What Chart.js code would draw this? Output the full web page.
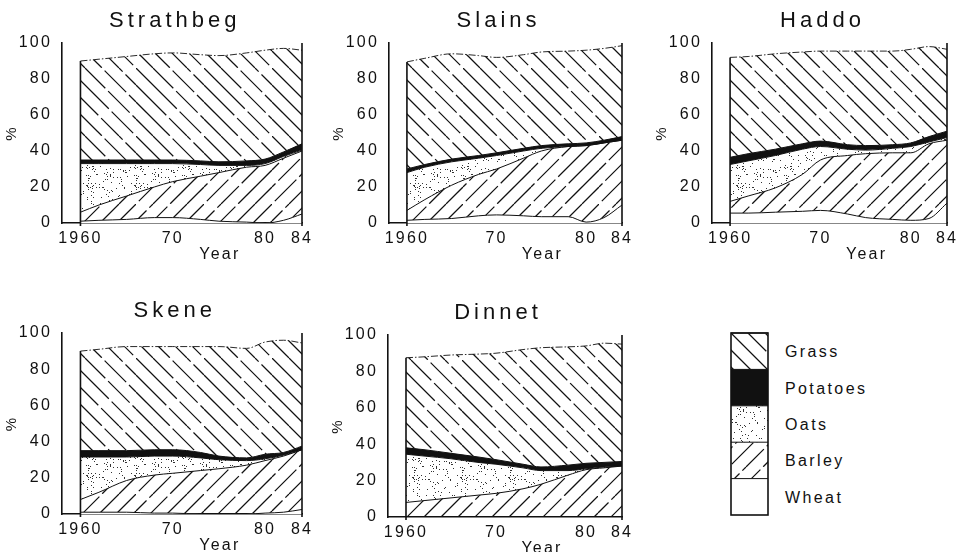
<!DOCTYPE html>
<html>
<head>
<meta charset="utf-8">
<script src="https://cdn.jsdelivr.net/npm/chart.js@4.4.1/dist/chart.umd.min.js"></script>
<style>
  body { margin: 0; background: #fff; width: 962px; height: 552px; overflow: hidden; position: relative;
         font-family: "Liberation Sans", Arial, sans-serif; color: #111; }
  canvas { position: absolute; }
  .lab { position: absolute; left: 785px; font-size: 16px; letter-spacing: 2.4px; line-height: 16px; }
</style>
</head>
<body>
<canvas id="c0"></canvas>
<canvas id="c1"></canvas>
<canvas id="c2"></canvas>
<canvas id="c3"></canvas>
<canvas id="c4"></canvas>
<canvas id="legendBox" width="41" height="186" style="left:729px;top:331px"></canvas>
<script>
const years = [1960, 1962, 1965, 1968, 1970, 1973, 1975, 1978, 1980, 1982, 1984];
const xTickValues = [1960, 1970, 1980, 1984];
const xTickLabels = ['1960', '70', '80', '84'];
const crops = ['Wheat', 'Barley', 'Oats', 'Potatoes', 'Grass']; // bottom to top
const legendOrder = ['Grass', 'Potatoes', 'Oats', 'Barley', 'Wheat'];

// Share of land (%) per crop
const strathbegWheat    = [1, 1.5, 2, 3, 3, 2, 1, 0.5, 0, 1.5, 5];
const strathbegBarley   = [5, 8.5, 13, 17, 20, 24, 27, 30.5, 32, 34.5, 35];
const strathbegOats     = [27, 23, 18, 13, 10, 6.5, 4, 1, 1, 1, 0.5];
const strathbegPotatoes = [2, 2, 2, 2, 2, 2, 2, 2.5, 2.5, 2.5, 3.5];
const strathbegGrass    = [55, 56, 57.5, 59, 59.5, 59, 59, 60, 60.5, 57.5, 52];

const slainsWheat    = [1.5, 2, 2.5, 4, 4.5, 4, 3.5, 3.5, 0.5, 3, 10];
const slainsBarley   = [5.5, 11, 18.5, 23, 25.5, 32, 36.5, 39, 42.5, 41.5, 36];
const slainsOats     = [21, 18, 13, 9, 7.5, 4, 1.5, 0, 0, 0, 0];
const slainsPotatoes = [2, 1.5, 1.5, 1.5, 1.5, 1.5, 1.5, 1.5, 1.5, 1.5, 2];
const slainsGrass    = [59.5, 59, 58.5, 55.5, 53, 52, 52, 51.5, 51.5, 51, 50.5];

const haddoWheat    = [5.5, 5.5, 6, 6.5, 7, 5, 3, 2, 1.5, 2.5, 11];
const haddoBarley   = [6.5, 9.5, 13.5, 20.5, 28, 32.5, 35.5, 37, 37.5, 41.5, 35];
const haddoOats     = [20.5, 19.5, 18, 14, 7.5, 3.5, 2, 2.5, 3.5, 1, 1.5];
const haddoPotatoes = [4, 4, 3.5, 3, 3, 2.5, 2.5, 2, 2, 3, 3.5];
const haddoGrass    = [55.5, 54, 53, 51, 50, 52, 52.5, 52, 52, 50, 45.5];

const skeneWheat    = [1, 1, 1, 0.5, 0.5, 0, 0, 0, 0.5, 1, 2.5];
const skeneBarley   = [7, 11, 17.5, 21, 22, 24, 25, 27, 29, 31, 33];
const skeneOats     = [23.5, 19.5, 13, 10.5, 9.5, 7, 5, 2.5, 1, 0.5, 0];
const skenePotatoes = [3.5, 3.5, 3.5, 3.5, 3.5, 3, 2, 1.5, 2.5, 1.5, 2];
const skeneGrass    = [55, 56, 57.5, 57, 57, 58.5, 60.5, 60.5, 62, 62, 57];

const dinnetWheat    = [0, 0, 0, 0, 0, 0, 0, 0, 0, 0, 0];
const dinnetBarley   = [8, 9, 10.5, 12, 13, 15.5, 18, 23, 26, 27, 28];
const dinnetOats     = [26.5, 24.5, 21.5, 18, 16, 11.5, 7.5, 2.5, 0.5, 0.5, 0];
const dinnetPotatoes = [3.5, 3.5, 3, 3, 2.5, 2, 2, 3, 3, 2.5, 2.5];
const dinnetGrass    = [49.5, 51, 54, 56.5, 58.5, 63, 65.5, 65, 64.5, 65.5, 64.5];

const FONT = '"Liberation Sans", Arial, sans-serif';
Chart.defaults.font.family = FONT;
Chart.defaults.color = '#111';

// ---- fill textures ----
function hatch(mirror) {
    const step = 17, n = 4, N = step * n;
    const c = document.createElement('canvas');
    c.width = c.height = N;
    const g = c.getContext('2d');
    if (mirror) { g.translate(N, 0); g.scale(-1, 1); }
    g.strokeStyle = '#111';
    g.lineWidth = 1.25;
    const L = N * Math.SQRT2;
    g.setLineDash([L * 0.6, 4, L * 0.4 - 8, 4]);
    for (let i = 0; i < n; i++) {
        const o = i * step;
        const off = i * 29;
        g.lineDashOffset = off;
        g.beginPath(); g.moveTo(o, 0); g.lineTo(N, N - o); g.stroke();
        g.lineDashOffset = off + (N - o) * Math.SQRT2;
        g.beginPath(); g.moveTo(0, N - o); g.lineTo(o, N); g.stroke();
    }
    return g.createPattern(c, 'repeat');
}

function stipple() {
    const N = 48;
    const c = document.createElement('canvas');
    c.width = c.height = N;
    const g = c.getContext('2d');
    g.fillStyle = '#fff';
    g.fillRect(0, 0, N, N);
    g.fillStyle = '#333';
    let s = 11;
    for (let k = 0; k < 120; k++) {
        s = (s * 16807) % 2147483647;
        const px = s % N;
        s = (s * 16807) % 2147483647;
        const py = s % N;
        g.fillRect(px, py, 1, 1);
    }
    return g.createPattern(c, 'repeat');
}

const fills = {
    Wheat: '#ffffff',
    Barley: hatch(true),
    Oats: stipple(),
    Potatoes: '#111111',
    Grass: hatch(false)
};

// frame lines, panel title and "Year" label
const frame = {
    id: 'frame',
    beforeDraw(chart) { chart.ctx.letterSpacing = '2.2px'; },
    afterDraw(chart, args, opts) {
        const { ctx, scales: { x, y } } = chart;
        const first = chart.data.datasets.reduce((s, d) => s + d.data[0].y, 0);
        const xl = x.getPixelForValue(years[0]);
        const xr = x.getPixelForValue(years[years.length - 1]);
        ctx.save();
        ctx.strokeStyle = '#111';
        ctx.lineWidth = 1.6;
        ctx.beginPath();
        ctx.moveTo(xl, y.getPixelForValue(0) + 3); ctx.lineTo(xl, y.getPixelForValue(first));
        ctx.moveTo(xr, y.getPixelForValue(0) + 3); ctx.lineTo(xr, y.getPixelForValue(100));
        ctx.stroke();
        ctx.fillStyle = '#111';
        ctx.textAlign = 'center';
        ctx.textBaseline = 'middle';
        ctx.letterSpacing = '4px';
        ctx.font = '22px ' + FONT;
        ctx.fillText(opts.title, x.getPixelForValue(1970) + 2, chart.chartArea.top - 22);
        ctx.letterSpacing = '2.2px';
        ctx.font = '16px ' + FONT;
        ctx.fillText('Year', x.getPixelForValue(1975) + 1, y.getPixelForValue(0) + 32);
        ctx.restore();
    }
};

function makeChart(id, title, series, box) {
    const canvas = document.getElementById(id);
    canvas.width = box.w;
    canvas.height = box.h;
    canvas.style.left = box.left + 'px';
    canvas.style.top = box.top + 'px';
    const datasets = crops.map((crop, k) => ({
        label: crop,
        data: years.map((yr, i) => ({ x: yr, y: series[k][i] })),
        fill: k === 0 ? 'origin' : '-1',
        backgroundColor: fills[crop],
        borderColor: '#111',
        borderWidth: crop === 'Grass' ? 0.9 : 1,
        borderDash: crop === 'Grass' ? [7, 2, 1.5, 2] : [],
        pointRadius: 0,
        cubicInterpolationMode: 'monotone'
    }));
    return new Chart(canvas, {
        type: 'line',
        data: { datasets },
        options: {
            responsive: false,
            animation: false,
            layout: { padding: { top: 43, right: 15, left: 0, bottom: 0 } },
            plugins: { legend: { display: false }, tooltip: { enabled: false }, frame: { title } },
            scales: {
                x: {
                    type: 'linear', min: 1958, max: 1984,
                    afterBuildTicks: s => { s.ticks = xTickValues.map(v => ({ value: v })); },
                    afterFit: s => { s.height = 38; s.paddingLeft = 0; s.paddingRight = 0; },
                    ticks: {
                        autoSkip: false, maxRotation: 0, padding: 6,
                        font: { size: 16 },
                        callback: v => xTickLabels[xTickValues.indexOf(v)]
                    },
                    grid: { display: false, drawTicks: false },
                    border: { display: true, color: '#111', width: 1.6 }
                },
                y: {
                    stacked: true, min: 0, max: 100,
                    afterFit: s => { s.width = 62; s.paddingTop = 0; s.paddingBottom = 0; },
                    ticks: { stepSize: 20, padding: 10, font: { size: 16 } },
                    grid: { display: false, drawTicks: false },
                    border: { display: true, color: '#111', width: 1.6 },
                    title: { display: true, text: '%', font: { size: 15 }, padding: { top: 3, bottom: 0 } }
                }
            }
        },
        plugins: [frame]
    });
}

makeChart('c0', 'Strathbeg',
    [strathbegWheat, strathbegBarley, strathbegOats, strathbegPotatoes, strathbegGrass],
    { left: 0, top: 0, w: 317, h: 261 });
makeChart('c1', 'Slains',
    [slainsWheat, slainsBarley, slainsOats, slainsPotatoes, slainsGrass],
    { left: 327, top: 0, w: 310, h: 261 });
makeChart('c2', 'Haddo',
    [haddoWheat, haddoBarley, haddoOats, haddoPotatoes, haddoGrass],
    { left: 650, top: 0, w: 312, h: 261 });
makeChart('c3', 'Skene',
    [skeneWheat, skeneBarley, skeneOats, skenePotatoes, skeneGrass],
    { left: 0, top: 290, w: 317, h: 262 });
makeChart('c4', 'Dinnet',
    [dinnetWheat, dinnetBarley, dinnetOats, dinnetPotatoes, dinnetGrass],
    { left: 326, top: 292, w: 311, h: 263 });

// legend box
const lg = document.getElementById('legendBox').getContext('2d');
const sw = 182 / legendOrder.length;
legendOrder.forEach((crop, k) => {
    lg.fillStyle = fills[crop];
    lg.fillRect(2, 2 + k * sw, 37, sw);
    lg.strokeStyle = '#111';
    lg.lineWidth = 1;
    lg.beginPath(); lg.moveTo(2, 2 + k * sw); lg.lineTo(39, 2 + k * sw); lg.stroke();
    const lab = document.createElement('div');
    lab.className = 'lab';
    lab.textContent = crop;
    lab.style.top = (334 + (k + 0.5) * sw - 8) + 'px';
    document.body.appendChild(lab);
});
lg.lineWidth = 1.6;
lg.strokeRect(2, 2, 37, 182);
</script>
</body>
</html>
